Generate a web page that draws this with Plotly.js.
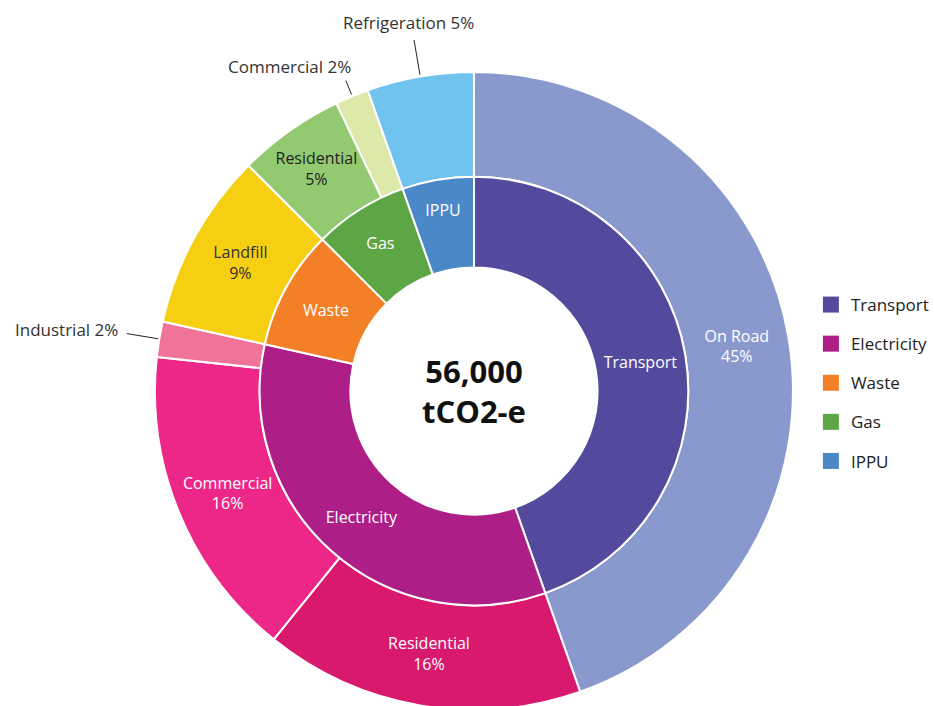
<!DOCTYPE html>
<html>
<head>
<meta charset="utf-8">
<script src="https://cdn.plot.ly/plotly-3.0.1.min.js"></script>
<style>
  html, body { margin: 0; padding: 0; overflow: hidden; background: #fff; }
  #chart { width: 934px; height: 716px; }
</style>
</head>
<body>
<div id="chart"></div>
<script>
// ---- Data ----
const groups = ['Transport', 'Electricity', 'Waste', 'Gas', 'IPPU'];
const groupColors = ['#534a9e', '#ad1f87', '#f37f27', '#5ea645', '#4a88c7'];

const subNames   = ['On Road', 'Residential', 'Commercial', 'Industrial', 'Landfill', 'Residential', 'Commercial', 'Refrigeration'];
const subParents = ['Transport', 'Electricity', 'Electricity', 'Electricity', 'Waste', 'Gas', 'Gas', 'IPPU'];
const subShares  = [44.6, 16.2, 15.9, 1.8, 9.0, 5.4, 1.7, 5.4];   // % of total emissions
const subColors  = ['#8a99cd', '#d9196e', '#ec2787', '#f0739a', '#f6cf12', '#93ca71', '#dde9a9', '#71c3ef'];
const subTextColors = ['#ffffff', '#ffffff', '#ffffff', '#333333', '#333333', '#222222', '#333333', '#333333'];
const outsideLabelled = [false, false, false, true, false, false, true, true];

const totalLabel = '56,000<br>tCO2-e';

// ---- Geometry / styles ----
const FONT = 'Open Sans, sans-serif';
const FS = 17;        // legend + outside labels
const FS_IN = 16;     // labels inside the rings
const W = 934, H = 716;
const cx = 475.5, cy = 391;
const R_OUT = 320, R_MID = 215, R_HOLE = 124;

function dom(r) {
  return {
    x: [(cx - r) / W, (cx + r) / W],
    y: [1 - (cy + r) / H, 1 - (cy - r) / H]
  };
}

const groupValues = groups.map(g => subShares.reduce((s, v, i) => s + (subParents[i] === g ? v : 0), 0));
const total = subShares.reduce((a, b) => a + b, 0);
const pct = v => Math.round(v / total * 100) + '%';

const outerTrace = {
  type: 'pie',
  labels: subNames.map((n, i) => subParents[i] + ' / ' + n),
  values: subShares,
  text: subNames,
  texttemplate: subNames.map((n, i) => outsideLabelled[i] ? '' : '%{text}<br>%{percent:.0%}'),
  textposition: subNames.map((n, i) => outsideLabelled[i] ? 'none' : 'inside'),
  insidetextorientation: 'horizontal',
  textfont: { family: FONT, size: FS_IN, color: subTextColors },
  sort: false,
  direction: 'clockwise',
  rotation: 0,
  hole: R_MID / R_OUT,
  domain: dom(R_OUT),
  marker: { colors: subColors, line: { color: '#ffffff', width: 2 } },
  showlegend: false,
  hoverinfo: 'skip',
  automargin: false
};

const innerTrace = {
  type: 'pie',
  labels: groups,
  values: groupValues,
  texttemplate: '%{label}',
  textposition: 'inside',
  insidetextorientation: 'horizontal',
  textfont: { family: FONT, size: FS_IN, color: '#ffffff' },
  sort: false,
  direction: 'clockwise',
  rotation: 0,
  hole: R_HOLE / R_MID,
  domain: dom(R_MID),
  marker: { colors: groupColors, line: { color: '#ffffff', width: 2 } },
  showlegend: false,
  hoverinfo: 'skip',
  automargin: false
};

// legend entries
const legendTraces = groups.map((g, i) => ({
  type: 'scatter',
  x: [null], y: [null],
  mode: 'markers',
  name: g,
  legendgroup: g,
  marker: { symbol: 'square', size: 16, color: groupColors[i] },
  hoverinfo: 'skip'
}));

// outside labels with radial leader lines, computed from the data
const shapes = [];
const annotations = [
  {
    text: '<b>' + totalLabel + '</b>',
    x: cx / W, y: 1 - cy / H, xref: 'paper', yref: 'paper',
    showarrow: false, font: { family: FONT, size: 31, color: '#111111' }
  }
];
const leader = {
  'Industrial':    { len: 33, xanchor: 'right',  yanchor: 'middle', xs: -7, ys: 4 },
  'Commercial':    { len: 16, xanchor: 'center', yanchor: 'bottom', xs: -56, ys: 1 },
  'Refrigeration': { len: 36, xanchor: 'center', yanchor: 'bottom', xs: -6, ys: 4 }
};
let cum = 0;
subShares.forEach((v, i) => {
  const mid = (cum + v / 2) / total * 2 * Math.PI;
  cum += v;
  if (!outsideLabelled[i]) return;
  const cfg = leader[subNames[i]];
  const dx = Math.sin(mid), dy = -Math.cos(mid);
  const x0 = cx + dx * (R_OUT + 1), y0 = cy + dy * (R_OUT + 1);
  const x1 = cx + dx * (R_OUT + cfg.len), y1 = cy + dy * (R_OUT + cfg.len);
  shapes.push({
    type: 'line', xref: 'paper', yref: 'paper',
    x0: x0 / W, y0: 1 - y0 / H, x1: x1 / W, y1: 1 - y1 / H,
    line: { color: '#222222', width: 1 }
  });
  annotations.push({
    text: subNames[i] + ' ' + pct(v),
    x: x1 / W, y: 1 - y1 / H, xref: 'paper', yref: 'paper',
    xanchor: cfg.xanchor, yanchor: cfg.yanchor, xshift: cfg.xs, yshift: cfg.ys,
    showarrow: false, font: { family: FONT, size: FS, color: '#333333' }
  });
});

const layout = {
  width: W, height: H,
  margin: { l: 0, r: 0, t: 0, b: 0 },
  paper_bgcolor: '#ffffff',
  plot_bgcolor: '#ffffff',
  font: { family: FONT, size: FS, color: '#222222' },
  xaxis: { visible: false, domain: [0.9, 0.91] },
  yaxis: { visible: false },
  showlegend: true,
  legend: {
    x: 0.871, xanchor: 'left',
    y: 1 - 383 / H, yanchor: 'middle',
    font: { family: FONT, size: FS, color: '#222222' },
    tracegroupgap: 14,
    bgcolor: 'rgba(0,0,0,0)'
  },
  shapes: shapes,
  annotations: annotations
};

Plotly.newPlot('chart', [outerTrace, innerTrace].concat(legendTraces), layout, { displayModeBar: false, staticPlot: true });
</script>
</body>
</html>
